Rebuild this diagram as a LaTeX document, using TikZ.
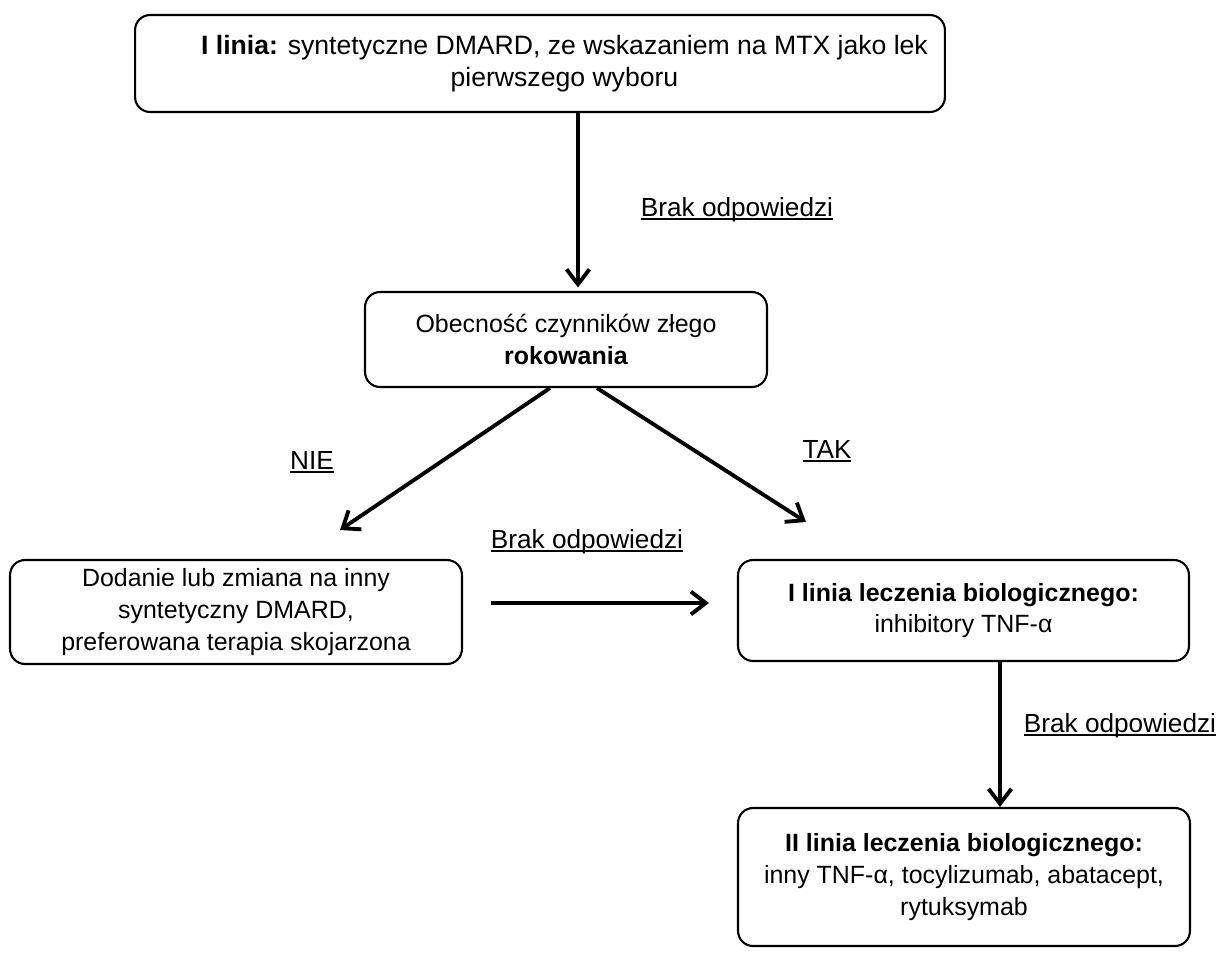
\documentclass[tikz,border=0pt]{standalone}
\usepackage{fontspec}
\setmainfont{Liberation Sans}
\usepackage{tikz}
\usetikzlibrary{arrows.meta,calc,positioning}

\newcommand{\undl}[1]{\setbox0\hbox{#1}\leavevmode\rlap{\rule[-2.4pt]{\wd0}{1.1pt}}\box0}

\tikzset{
  box/.style={draw,line width=1.2pt,rounded corners=0.3cm,align=center,
    inner sep=0pt,font=\fontsize{14.2}{18.1}\selectfont},
  arr/.style={line width=2.2pt,-{Straight Barb[length=8.5pt,width=13pt]}},
  lbl/.style={anchor=base,inner sep=0pt,font=\fontsize{14.9}{18}\selectfont}
}

\begin{document}
\begin{tikzpicture}[x=0.02cm,y=-0.02cm]
  \useasboundingbox (0,0) rectangle (1221,954);
  % boxes
  \node (lin1) at (540,63.5) [box,minimum width=16.2cm,minimum height=1.94cm,
    font=\fontsize{15.14}{18.4}\selectfont]
    {\hspace*{0.98cm}\textbf{I linia:} syntetyczne DMARD, ze wskazaniem na MTX jako lek\\\hspace*{0.98cm}pierwszego wyboru};
  \node (rok) at (566,339.5) [box,minimum width=8.04cm,minimum height=1.9cm]
    {Obecność czynników złego\\\textbf{rokowania}};
  \node (dmard) at (236,612) [box,minimum width=9.04cm,minimum height=2.08cm]
    {Dodanie lub zmiana na inny\\syntetyczny DMARD,\\preferowana terapia skojarzona};
  \node (bio1) at (963.5,610.5) [box,minimum width=9.02cm,minimum height=2.02cm]
    {\textbf{I linia leczenia biologicznego:}\\inhibitory TNF-α};
  \node (bio2) at (964,877) [box,minimum width=9.04cm,minimum height=2.76cm]
    {\textbf{II linia leczenia biologicznego:}\\inny TNF-α, tocylizumab, abatacept,\\rytuksymab};
  % free ends
  \coordinate (nieE) at (340,530);
  \coordinate (takE) at (806,522);
  % connectors
  \draw[arr,shorten >=2pt] ([xshift=.24cm]rok.north |- lin1.south) -- ([xshift=.24cm]rok.north);
  \draw[arr] ([xshift=-.32cm]rok.south) -- (nieE);
  \draw[arr] ([xshift=.62cm]rok.south) -- (takE);
  \draw[arr,shorten <=.56cm,shorten >=.56cm] ([yshift=.18cm]dmard.east) -- ([yshift=.18cm]dmard.east -| bio1.west);
  \draw[arr] ([xshift=.73cm]bio1.south) -- ([xshift=.73cm]bio1.south |- bio2.north);
  % labels
  \node[lbl] (brak1) at (737,216) {\undl{Brak odpowiedzi}};
  \node[lbl] (nie) at (312,469) {\undl{NIE}};
  \node[lbl] (tak) at (827,458) {\undl{TAK}};
  \node[lbl] (brak2) at (587,548) {\undl{Brak odpowiedzi}};
  \node[lbl] (brak3) at (1120,732) {\undl{Brak odpowiedzi}};
\end{tikzpicture}
\end{document}
